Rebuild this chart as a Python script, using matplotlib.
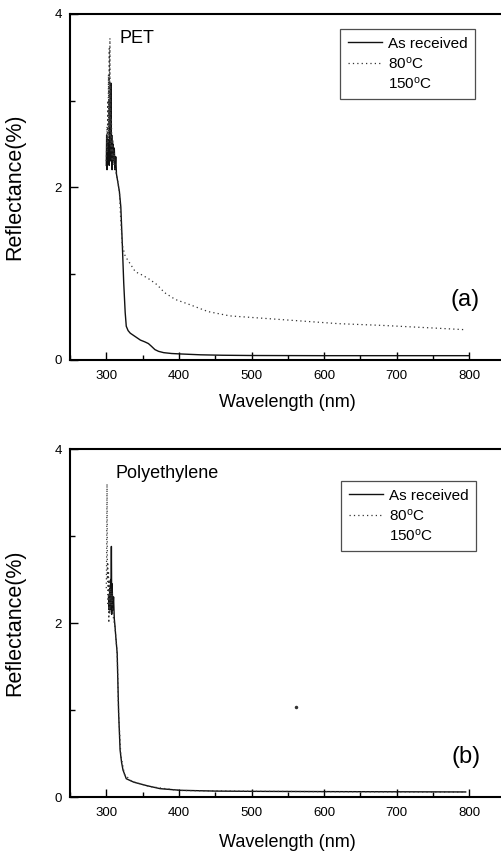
import matplotlib
matplotlib.use("Agg")
import matplotlib.pyplot as plt
from matplotlib.ticker import MultipleLocator

plt.rcParams['font.family'] = ['Liberation Sans', 'DejaVu Sans']
plt.rcParams['mathtext.fontset'] = 'custom'
plt.rcParams['mathtext.rm'] = 'Liberation Sans'
plt.rcParams['mathtext.it'] = 'Liberation Sans'

# ---- PET (a) ----
pet_recv_wl = [300, 300.5, 301, 302, 302.5, 303, 304, 304.5, 305, 305.5, 306, 306.5, 307, 307.5,
               308, 309, 310, 311, 312, 313, 314, 315, 317, 318, 320, 322, 324, 326, 327.5, 330,
               333, 340, 347, 353, 358, 362, 367, 372, 379, 390, 402, 430, 460, 500, 600, 700, 800]
pet_recv_r = [2.25, 2.6, 2.2, 2.5, 2.3, 2.55, 2.25, 2.7, 2.3, 3.0, 2.4, 3.2, 2.3, 2.6,
              2.2, 2.5, 2.3, 2.45, 2.2, 2.35, 2.15, 2.1, 2.0, 1.95, 1.77, 1.35, 0.89, 0.55, 0.39, 0.34,
              0.31, 0.27, 0.23, 0.21, 0.19, 0.16, 0.12, 0.10, 0.085, 0.075, 0.07, 0.06, 0.055, 0.052, 0.05, 0.05, 0.05]

pet_80_wl = [300, 301, 301.5, 302, 302.5, 303, 303.5, 304, 304.5, 305, 305.5, 306, 306.5, 307,
             308, 309, 310, 311, 312, 314, 316, 318, 320, 322, 326, 330, 340, 350, 360, 370,
             380, 395, 415, 440, 470, 520, 570, 620, 680, 750, 795]
pet_80_r = [2.3, 2.7, 2.4, 3.0, 2.5, 3.3, 2.6, 3.6, 2.7, 3.72, 2.5, 3.2, 2.4, 2.8,
            2.3, 2.55, 2.25, 2.4, 2.2, 2.15, 2.05, 1.95, 1.6, 1.33, 1.2, 1.15, 1.02, 0.98, 0.93, 0.87,
            0.78, 0.70, 0.64, 0.56, 0.51, 0.48, 0.45, 0.42, 0.40, 0.37, 0.35]

pet_150_wl = [400, 800]
pet_150_r = [0.05, 0.05]

# ---- Polyethylene (b) ----
pe_recv_wl = [303, 304, 305, 305.5, 306, 306.5, 307, 307.5, 308, 309, 310, 311, 312, 313, 315,
              316, 317, 319, 321, 323, 327.5, 338, 356, 374, 402, 450, 500, 600, 700, 795]
pe_recv_r = [2.3, 2.15, 2.4, 2.15, 2.5, 2.2, 2.88, 2.1, 2.45, 2.15, 2.3, 2.05, 1.96, 1.85, 1.65,
             1.3, 0.96, 0.54, 0.40, 0.31, 0.21, 0.17, 0.13, 0.096, 0.077, 0.068, 0.065, 0.062, 0.06, 0.058]

pe_80_wl = [300, 300.5, 301, 301.5, 302, 302.5, 303, 303.5, 304, 305, 306, 307, 308, 309, 310,
            312, 315, 317, 320, 325, 335, 360, 400, 500, 600, 700, 795]
pe_80_r = [2.4, 2.8, 3.6, 2.5, 2.7, 2.2, 2.6, 2.0, 2.5, 2.1, 2.4, 2.2, 2.35, 2.1, 2.05,
           1.95, 1.65, 0.95, 0.48, 0.26, 0.18, 0.12, 0.075, 0.065, 0.062, 0.06, 0.057]
pe_80_stray_wl = [561]
pe_80_stray_r = [1.03]

pe_150_wl = [400, 800]
pe_150_r = [0.06, 0.06]

legend_labels = ['As received', r'80$^{\rm o}$C', r'150$^{\rm o}$C']

fig = plt.figure(figsize=(5.02, 8.52), dpi=100)
W, H = 502.0, 852.0
axw = (505.6 - 70) / W
ax1 = fig.add_axes([70 / W, 1 - 360 / H, axw, 346 / H])
ax2 = fig.add_axes([70 / W, 1 - 797 / H, axw, 348 / H])

dotted = (0, (1, 2.5))

def style(ax, label_y):
    ax.set_xlim(250, 850)
    ax.set_ylim(0, 4)
    ax.xaxis.set_major_locator(MultipleLocator(100))
    ax.xaxis.set_minor_locator(MultipleLocator(50))
    ax.yaxis.set_major_locator(MultipleLocator(2))
    ax.yaxis.set_minor_locator(MultipleLocator(1))
    ax.set_xticks([300, 400, 500, 600, 700, 800])
    ax.tick_params(which='both', direction='in', top=False, right=False, labelsize=9.5, width=1.0)
    ax.tick_params(which='major', length=6)
    ax.tick_params(which='minor', length=3.5)
    ax.tick_params(axis='x', pad=7)
    ax.tick_params(axis='y', pad=6)
    for s in ax.spines.values():
        s.set_linewidth(1.5)
    ax.set_xlabel('Wavelength (nm)', fontsize=13)
    ax.set_ylabel('Reflectance(%)', fontsize=15.5)
    ax.yaxis.set_label_coords(-0.103, 0.5)
    ax.xaxis.set_label_coords(0.5, label_y)

# panel a
ax1.plot(pet_recv_wl, pet_recv_r, color='#111111', lw=1.0, label=legend_labels[0])
ax1.plot(pet_80_wl, pet_80_r, color='#333333', lw=0.9, ls=dotted, label=legend_labels[1])
ax1.plot(pet_150_wl, pet_150_r, ls='None', label=legend_labels[2])
style(ax1, -0.098)
ax1.text(318, 3.72, 'PET', fontsize=13, va='center', ha='left')
ax1.text(794, 0.69, '(a)', fontsize=17, va='center', ha='center')
leg1 = ax1.legend(loc='upper right', bbox_to_anchor=(0.930, 0.957), borderaxespad=0,
                  fontsize=11, frameon=True, fancybox=False, handlelength=2.2,
                  labelspacing=0.3, handletextpad=0.4, borderpad=0.5)
leg1.get_frame().set_edgecolor('#222222')
leg1.get_frame().set_linewidth(0.9)

# panel b
ax2.plot(pe_recv_wl, pe_recv_r, color='#111111', lw=1.0, label=legend_labels[0])
ax2.plot(pe_80_wl, pe_80_r, color='#333333', lw=0.9, ls=dotted, label=legend_labels[1])
ax2.plot(pe_150_wl, pe_150_r, ls='None', label=legend_labels[2])
ax2.plot(pe_80_stray_wl, pe_80_stray_r, 'o', ms=1.5, color='#333333')
style(ax2, -0.106)
ax2.text(312, 3.72, 'Polyethylene', fontsize=13, va='center', ha='left')
ax2.text(796, 0.46, '(b)', fontsize=17, va='center', ha='center')
leg2 = ax2.legend(loc='upper right', bbox_to_anchor=(0.932, 0.908), borderaxespad=0,
                  fontsize=11, frameon=True, fancybox=False, handlelength=2.2,
                  labelspacing=0.3, handletextpad=0.4, borderpad=0.5)
leg2.get_frame().set_edgecolor('#222222')
leg2.get_frame().set_linewidth(0.9)

fig.savefig('out.png', dpi=100)
